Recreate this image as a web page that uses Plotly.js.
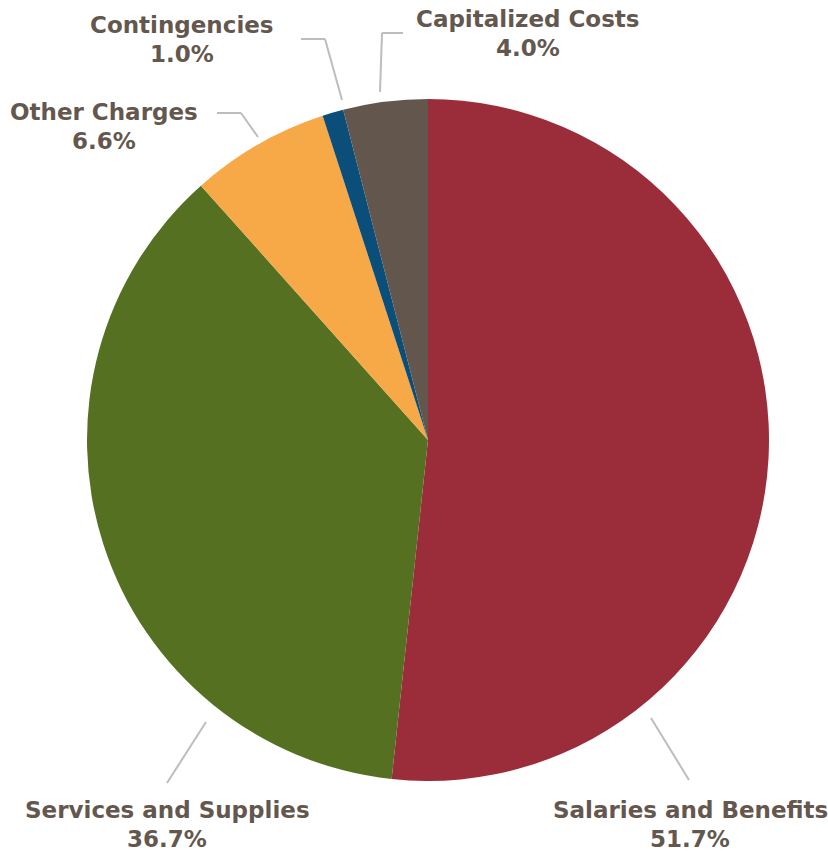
<!DOCTYPE html>
<html>
<head>
<meta charset="utf-8">
<script src="https://cdn.plot.ly/plotly-3.0.1.min.js"></script>
<style>html,body{margin:0;padding:0;background:#fff;}#chart{width:828px;height:855px;}</style>
</head>
<body>
<div id="chart"></div>
<script>
// Data
const categories = ["Salaries and Benefits", "Services and Supplies", "Other Charges", "Contingencies", "Capitalized Costs"];
const shares = [51.7, 36.7, 6.6, 1.0, 4.0];
const sliceColors = ["#9B2C3A", "#557021", "#F7A847", "#0A4E79", "#63564D"];

// Label placement (pixel coords in the 828x855 canvas) – layout only
const labelPos = [
  {x: 690, y1: 810, y2: 839, line: [[651, 718], [689, 780]]},
  {x: 167, y1: 810, y2: 839, line: [[206, 722], [167, 783]]},
  {x: 104, y1: 112, y2: 141, line: [[217, 113], [241, 113], [258, 137]]},
  {x: 182, y1: 25, y2: 54, line: [[301, 39], [325, 39], [342, 100]]},
  {x: 528, y1: 19, y2: 48, line: [[403, 33], [382, 33], [380, 92]]}
];

const W = 828, H = 855;
const px = x => x / W;
const py = y => 1 - y / H;
const textColor = "#63574E";
const labelFont = {family: "'DejaVu Sans', sans-serif", size: 23, weight: 700, color: textColor};

const annotations = [];
const shapes = [];
categories.forEach((c, i) => {
  const p = labelPos[i];
  const common = {xref: "paper", yref: "paper", showarrow: false, xanchor: "center", yanchor: "middle",
    valign: "middle", borderpad: 0, font: labelFont};
  annotations.push(Object.assign({x: px(p.x), y: py(p.y1), text: c}, common));
  annotations.push(Object.assign({x: px(p.x), y: py(p.y2), text: shares[i].toFixed(1) + "%"}, common));
  for (let k = 0; k < p.line.length - 1; k++) {
    shapes.push({type: "line", xref: "paper", yref: "paper",
      x0: px(p.line[k][0]), y0: py(p.line[k][1]), x1: px(p.line[k+1][0]), y1: py(p.line[k+1][1]),
      line: {color: "#BDBDBD", width: 2}});
  }
});

const cx = 428, cy = 440, r = 341;
const trace = {
  type: "pie",
  labels: categories,
  values: shares,
  sort: false,
  direction: "clockwise",
  rotation: 0,
  textinfo: "none",
  hoverinfo: "label+percent",
  marker: {colors: sliceColors, line: {width: 0}},
  domain: {x: [px(cx - r), px(cx + r)], y: [py(cy + r), py(cy - r)]},
  showlegend: false
};

Plotly.newPlot("chart", [trace], {
  width: W, height: H,
  margin: {l: 0, r: 0, t: 0, b: 0},
  paper_bgcolor: "#fff",
  showlegend: false,
  annotations: annotations,
  shapes: shapes
}, {displayModeBar: false, staticPlot: true});
</script>
</body>
</html>
